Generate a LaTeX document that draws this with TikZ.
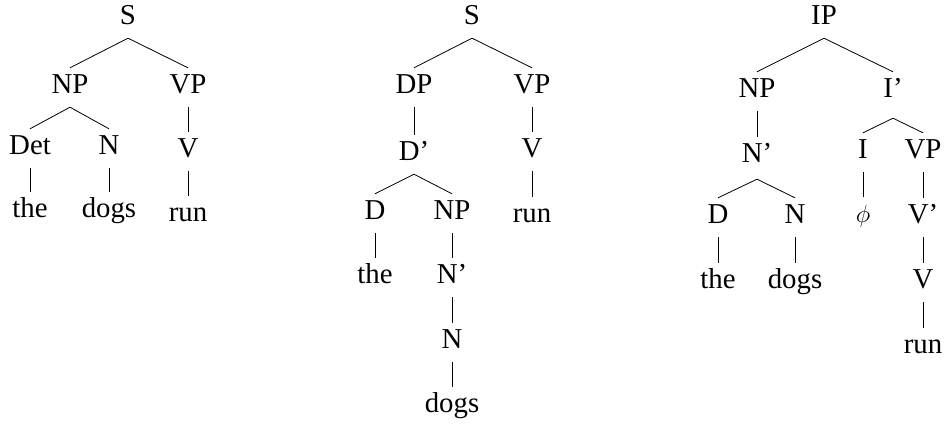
\documentclass[tikz,border=0pt]{standalone}
\usepackage{fontspec}
\setmainfont{Liberation Serif}
\begin{document}
\begin{tikzpicture}[x=1pt,y=-1pt,
  lab/.style={anchor=base,inner xsep=0pt,inner ysep=8pt,text height=17pt,text depth=6pt,font=\fontsize{28.8}{30}\selectfont},
  edge/.style={line width=0.8pt}]
\useasboundingbox (0,0) rectangle (944,423);
% Tree 1
\node[lab] (aS)   at (128,24)  {S};
\node[lab] (aNP)  at (70,93)   {NP};
\node[lab] (aVP)  at (188,93)  {VP};
\node[lab] (aDet) at (30,154)  {Det};
\node[lab] (aN)   at (109,154) {N};
\node[lab] (aV)   at (188,157) {V};
\node[lab] (athe) at (30,217)  {the};
\node[lab] (adogs) at (109,217) {dogs};
\node[lab] (arun) at (188,221) {run};
\draw[edge] (aNP.north) -- (aS.south) -- (aVP.north);
\draw[edge] (aDet.north) -- (aNP.south) -- (aN.north);
\draw[edge] (aVP.south) -- (aV.north);
\draw[edge] (aDet.south) -- (athe.north);
\draw[edge] (aN.south) -- (adogs.north);
\draw[edge] (aV.south) -- (arun.north);
% Tree 2
\node[lab] (bS)   at (472,24)  {S};
\node[lab] (bDP)  at (414,93)  {DP};
\node[lab] (bVP)  at (532,93)  {VP};
\node[lab] (bDb)  at (414,160) {D'};
\node[lab] (bV)   at (532,157) {V};
\node[lab] (bD)   at (375,219) {D};
\node[lab] (bNP)  at (452,219) {NP};
\node[lab] (brun) at (532,222) {run};
\node[lab] (bthe) at (375,283) {the};
\node[lab] (bNb)  at (452,283) {N'};
\node[lab] (bN)   at (452,348) {N};
\node[lab] (bdogs) at (452,412) {dogs};
\draw[edge] (bDP.north) -- (bS.south) -- (bVP.north);
\draw[edge] (bDP.south) -- (bDb.north);
\draw[edge] (bVP.south) -- (bV.north);
\draw[edge] (bD.north) -- (bDb.south) -- (bNP.north);
\draw[edge] (bV.south) -- (brun.north);
\draw[edge] (bD.south) -- (bthe.north);
\draw[edge] (bNP.south) -- (bNb.north);
\draw[edge] (bNb.south) -- (bN.north);
\draw[edge] (bN.south) -- (bdogs.north);
% Tree 3
\node[lab] (cIP)  at (824,24)  {IP};
\node[lab] (cNP)  at (757,97)  {NP};
\node[lab] (cIb)  at (893,97)  {I'};
\node[lab] (cNb)  at (757,162) {N'};
\node[lab] (cI)   at (863,158) {I};
\node[lab] (cVP)  at (923,158) {VP};
\node[lab] (cD)   at (718,223) {D};
\node[lab] (cN)   at (795,223) {N};
\node[lab] (cphi) at (863,222) {$\phi$};
\node[lab] (cVb)  at (923,223) {V'};
\node[lab] (cthe) at (718,288) {the};
\node[lab] (cdogs) at (795,288) {dogs};
\node[lab] (cV)   at (923,288) {V};
\node[lab] (crun) at (923,353) {run};
\draw[edge] (cNP.north) -- (cIP.south) -- (cIb.north);
\draw[edge] (cNP.south) -- (cNb.north);
\draw[edge] (cI.north) -- ([yshift=-7pt]cIb.south) -- (cVP.north);
\draw[edge] (cD.north) -- ([yshift=-3pt]cNb.south) -- (cN.north);
\draw[edge] (cI.south) -- (cphi.north);
\draw[edge] (cVP.south) -- (cVb.north);
\draw[edge] (cD.south) -- (cthe.north);
\draw[edge] (cN.south) -- (cdogs.north);
\draw[edge] (cVb.south) -- (cV.north);
\draw[edge] (cV.south) -- (crun.north);
\end{tikzpicture}
\end{document}
